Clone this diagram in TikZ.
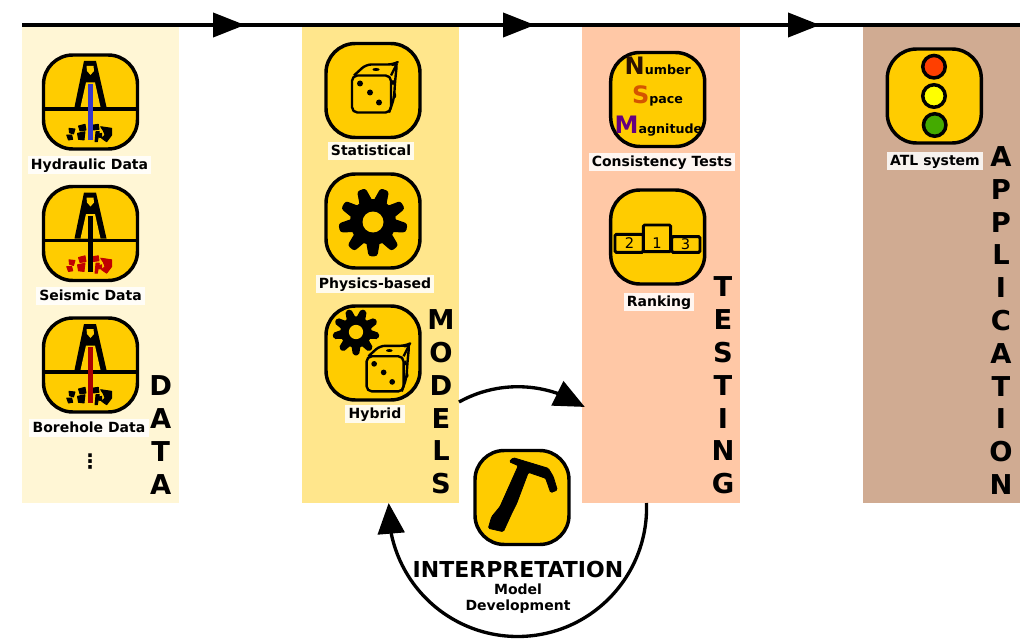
\documentclass[tikz,border=0pt]{standalone}
\usepackage{fontspec}
\setmainfont{DejaVu Sans}
\usetikzlibrary{arrows.meta,bending}
\definecolor{iconY}{HTML}{FFCC00}
\definecolor{pData}{HTML}{FFF6D5}
\definecolor{pModel}{HTML}{FFE68C}
\definecolor{pTest}{HTML}{FFC8A6}
\definecolor{pAppl}{HTML}{D0AB92}
\definecolor{nBrown}{HTML}{2B1100}
\definecolor{sOrange}{HTML}{D45500}
\definecolor{mPurple}{HTML}{660080}
\definecolor{pipeBlue}{HTML}{3737C8}
\definecolor{pipeRed}{HTML}{AA0000}
\definecolor{rockRed}{HTML}{C00000}
\definecolor{lampR}{HTML}{FF3F00}
\definecolor{lampY}{HTML}{FFFF00}
\definecolor{lampG}{HTML}{44AA00}
\tikzset{
  panel/.style={minimum width=#1*0.75pt,minimum height=476*0.75pt,inner sep=0,outer sep=0,anchor=north west},
  iconbox/.style={draw=black,line width=2.6pt,fill=iconY,rounded corners=22pt,minimum size=94*0.75pt,inner sep=0},
  lamp/.style={circle,draw=black,line width=2.6pt,fill=#1,minimum size=22.5*0.75pt,inner sep=0},
  lab/.style={font=\fontsize{10.5}{12}\selectfont\bfseries,fill=white,fill opacity=.85,text opacity=1,inner xsep=2.5pt,inner ysep=1.6pt,text height=8.2pt,text depth=2.1pt},
  stack/.style={font=\fontsize{20.5}{24.6}\selectfont\bfseries,align=center,inner sep=0},
  flow/.style={-{Triangle[length=24pt,width=18pt]}},
  cyc/.style={line width=2.5pt,-{Triangle[length=23pt,width=20pt,flex]}},
  pics/rig/.style 2 args={code={
    \fill[black] (-6.5,-41) -- (5.5,-41) -- (16,5) -- (-16,5) -- cycle;
    \fill[iconY] (-4,-36) -- (3,-36) -- (3.5,-31) -- (0,-27) -- (-3.5,-31) -- cycle;
    \fill[iconY] (-4.5,-19.5) -- (4.5,-19.5) -- (10,5) -- (-10,5) -- cycle;
    \draw[black,line width=2.9pt] (-47,7) -- (47,7);
    \filldraw[draw=#1,fill=#1,line width=.7pt,line join=round] (-21.5,26.3) -- (-15.5,27) -- (-17,32) -- (-21,30.7) -- cycle
      (-23.8,33) -- (-18.8,33) -- (-17.8,37.3) -- (-22,38) -- cycle
      (-12,24) -- (-5.5,22.3) -- (-4.5,28) -- (-10.5,29) -- cycle
      (-13,31.3) -- (-5.5,29.7) -- (-6.5,38) -- (-12,37.3) -- cycle
      (2.8,23) -- (7.8,22.3) -- (8.5,27.3) -- (3,28) -- cycle
      (5.5,29.7) -- (8.8,29.7) -- (6.8,39.7) -- (4.5,39.7) -- cycle
      (10.2,24.7) -- (21.2,26.3) -- (21.2,33) -- (16.2,39.7) -- (11.2,36.3) -- (14.5,33) -- (12.8,28.7) -- cycle
      (8.8,32) -- (11.2,31.3) -- (11.2,35.3) -- (8.8,35.3) -- cycle;
    \fill[#2] (-2.7,-18) rectangle (2.7,38);
  }},
  pics/gear/.style={code={
    \fill[black] (0,0) circle[radius=23*#1];
    \foreach \a in {90,130,...,410}{
      \draw[black,fill=black,line width=#1*5pt,line join=round]
        (\a-10:20*#1) -- (\a-3:31*#1) -- (\a+3:31*#1) -- (\a+10:20*#1) -- cycle;
    }
    \fill[iconY] (0,0) circle[radius=10.5*#1];
  }},
  pics/dice/.style={code={
    \begin{scope}[line width=1.8pt,line join=round,black]
      \draw[rounded corners=4pt] (-19,-15) -- (-7,-26) -- (20,-26) -- (24,-28) -- (22,-8) -- (21,8) -- (16,22);
      \draw (18,-15) -- (24,-27);
      \draw[rounded corners=4pt] (-21,-15) rectangle (18,22);
    \end{scope}
    \fill[black] (-13,-7) circle[radius=3] (-3,2) circle[radius=3] (6,12) circle[radius=3];
    \fill[black] (3,-21) ellipse[x radius=3.5,y radius=1.5];
    \fill[black] (20,-8) ellipse[x radius=1.2,y radius=2.5] (22,5) ellipse[x radius=1.2,y radius=2.5];
  }}
}
\begin{document}
\begin{tikzpicture}[x=0.75pt,y=-0.75pt]
\useasboundingbox (0,0) rectangle (1033,642);
% panels
\node[panel=157,fill=pData]  (pdata) at (22,27) {};
\node[panel=157,fill=pModel] (pmodel) at (302,27) {};
\node[panel=158,fill=pTest]  (ptest) at (582,27) {};
\node[panel=157,fill=pAppl]  (pappl) at (863,27) {};
% time line
\coordinate (t0) at (22,25);
\coordinate (t1) at (245,25);
\coordinate (t2) at (535,25);
\coordinate (t3) at (820,25);
\coordinate (t4) at (1020,25);
\draw[line width=3pt] (t0) -- (t4);
\draw[flow,line width=3pt] (t0) -- (t1);
\draw[flow,line width=3pt] (t1) -- (t2);
\draw[flow,line width=3pt] (t2) -- (t3);
% stacked titles
\node[stack] (tdata) at (160.7,435) {D\\A\\T\\A};
\node[stack] (tmodel) at (441,402) {M\\O\\D\\E\\L\\S};
\node[stack] (ttest) at (723,385.5) {T\\E\\S\\T\\I\\N\\G};
\node[stack] (tappl) at (1001,320.5) {A\\P\\P\\L\\I\\C\\A\\T\\I\\O\\N};
% data
\node[iconbox] (i1) at (90.5,102) {};
\pic at (90.5,102) {rig={black}{pipeBlue}};
\node[lab] (l1) at (89.5,165) {Hydraulic Data};
\node[iconbox] (i2) at (90.5,233.5) {};
\pic at (90.5,233.5) {rig={rockRed}{black}};
\node[lab] (l2) at (90.5,296) {Seismic Data};
\node[iconbox] (i3) at (90.5,365) {};
\pic at (90.5,365) {rig={black}{pipeRed}};
\node[lab] (l3) at (89,428) {Borehole Data};
\node[font=\fontsize{15}{16}\selectfont\bfseries,inner sep=0] (dots) at (90,462) {⋮};
% models
\node[iconbox] (i4) at (373,90.5) {};
\pic at (373,90.5) {dice};
\node[lab] (l4) at (371,151) {Statistical};
\node[iconbox] (i5) at (373,221) {};
\pic at (373,222) {gear=1};
\node[lab] (l5) at (375,284) {Physics-based};
\node[iconbox] (i6) at (373,353) {};
\pic at (356,332) {gear=0.68};
\pic[scale=.95] at (386.5,370.5) {dice};
\node[lab] (l6) at (375,414) {Hybrid};
% testing
\node[iconbox] (i7) at (657.7,99.5) {};
\node[inner sep=0,anchor=base,font=\fontsize{9.5}{10}\selectfont\bfseries] (nsm1) at (657.8,75) {{\fontsize{18}{18}\selectfont\color{nBrown}N}umber};
\node[inner sep=0,anchor=base,font=\fontsize{9.5}{10}\selectfont\bfseries] (nsm2) at (657.5,104) {{\fontsize{18}{18}\selectfont\color{sOrange}S}pace};
\node[inner sep=0,anchor=base,font=\fontsize{9.5}{10}\selectfont\bfseries] (nsm3) at (658.5,133) {{\fontsize{18}{18}\selectfont\color{mPurple}M}agnitude};
\node[lab] (l7) at (662,162) {Consistency Tests};
\node[iconbox] (i8) at (657.7,237) {};
\draw[line width=2.2pt,rounded corners=1pt] (615,234.3) rectangle (643.3,252.3);
\draw[line width=2.2pt,rounded corners=1pt] (643.3,225) rectangle (670.7,251.7);
\draw[line width=2.2pt,rounded corners=1pt] (671.7,236.7) rectangle (700,252.3);
\node[font=\fontsize{11}{12}\selectfont,inner sep=0] (n2) at (629.5,243.5) {2};
\node[font=\fontsize{11}{12}\selectfont,inner sep=0] (n1) at (657,243) {1};
\node[font=\fontsize{11}{12}\selectfont,inner sep=0] (n3) at (685.5,244.5) {3};
\node[lab] (l8) at (659,302) {Ranking};
% application
\node[iconbox] (i9) at (934.3,96) {};
\node[lamp=lampR] (c1) at (934,66.7) {};
\node[lamp=lampY] (c2) at (934,96) {};
\node[lamp=lampG] (c3) at (934.7,125) {};
\node[lab] (l9) at (935,161) {ATL system};
% interpretation
\node[iconbox] (i10) at (522,497.5) {};
\begin{scope}[shift={(522,497.5)}]
\filldraw[black,line width=.6pt,rounded corners=1pt] (-12.7,-35.8) -- (-8.7,-39.8) -- (26.3,-29.2) -- (31.3,-20.8) -- (35.3,-7.5) -- (28.7,-4.8) -- (23.7,-19.2) -- (6.3,-25.2) -- (-5.3,5.8) -- (-10.3,15.8) -- (-18.7,34.2) -- (-33.7,30.8) -- (-30.3,19.2) -- (-22,9.2) -- (-3.7,-31.8) -- cycle;
\end{scope}
\node[font=\fontsize{16.5}{18}\selectfont\bfseries,inner sep=0] (int) at (518,569) {INTERPRETATION};
\node[font=\fontsize{10.5}{12}\selectfont\bfseries,inner sep=0] (int2) at (518,589) {Model};
\node[font=\fontsize{10.5}{12}\selectfont\bfseries,inner sep=0] (int3) at (518,606.5) {Development};
% cycle
\coordinate (a0) at (459,402);
\coordinate (b0) at (646.5,503);
\draw[cyc] (a0) arc[start angle=240.9,end angle=303.6,radius=121];
\draw[cyc] (b0) arc[start angle=-2,end angle=182,radius=129];
\end{tikzpicture}
\end{document}
